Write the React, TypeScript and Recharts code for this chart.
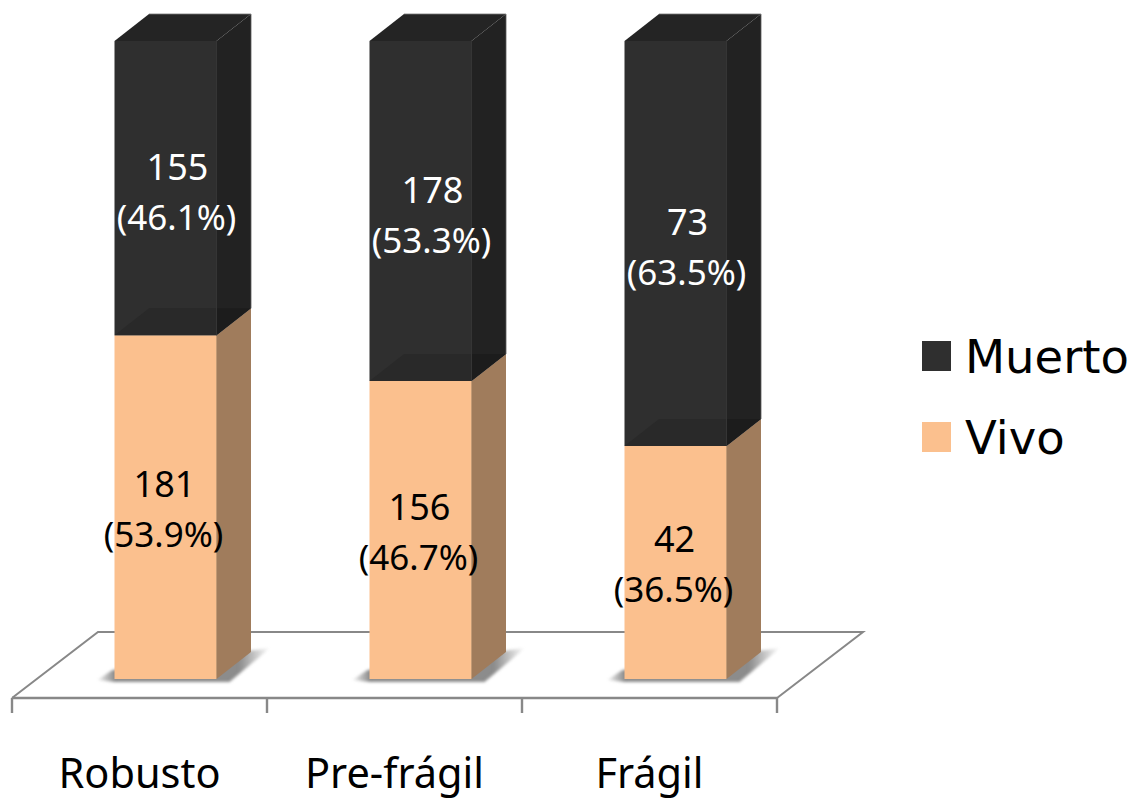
import React from "react";
import { BarChart, Bar, XAxis, YAxis, Legend, ReferenceArea } from "recharts";

const categories = ["Robusto", "Pre-frágil", "Frágil"];
const vivoCounts = [181, 156, 42];
const muertoCounts = [155, 178, 73];
const vivoShares = ["(53.9%)", "(46.7%)", "(36.5%)"];
const muertoShares = ["(46.1%)", "(53.3%)", "(63.5%)"];

const rows = categories.map((name, i) => ({
  name,
  vivo: vivoCounts[i],
  muerto: muertoCounts[i],
  vivoShare: vivoShares[i],
  muertoShare: muertoShares[i],
}));

const FONT = "'Noto Sans', sans-serif";
const DEPTH_X = 34.5;
const DEPTH_Y = 27;
const AXIS_SHIFT = 25.5;
const BAND = 255;

const pts = (list: number[][]) => list.map((p) => p.join(",")).join(" ");

function SegmentLabel({ cx, mid, count, share, color }: any) {
  return (
    <g fill={color} fontFamily={FONT} textAnchor="middle">
      <text x={cx} y={mid - 11} fontSize={36}>{count}</text>
      <text x={cx - 1} y={mid + 39} fontSize={35}>{share}</text>
    </g>
  );
}

// Lower block of a column, with its cast shadow on the floor.
function VivoBlock(props: any) {
  const { x, y, width: w, height: h, index, payload } = props;
  const b = y + h;
  const r = x + w;
  const id = `cast-${index}`;
  return (
    <g>
      <defs>
        <linearGradient id={id} x1="0" y1="0" x2="1" y2="0">
          <stop offset="0" stopColor="#858585" stopOpacity={0.1} />
          <stop offset="0.1" stopColor="#858585" stopOpacity={0.95} />
          <stop offset="0.82" stopColor="#858585" stopOpacity={0.95} />
          <stop offset="1" stopColor="#858585" stopOpacity={0} />
        </linearGradient>
      </defs>
      <polygon
        points={pts([
          [x - 17, b + 1],
          [x - 2, b - 9],
          [r + DEPTH_X + 19, b - DEPTH_Y - 4],
          [r + 13, b + 3],
          [x, b + 3],
        ])}
        fill={`url(#${id})`}
        style={{ filter: "blur(1.6px)" }}
      />
      <polygon points={pts([[x, b], [x, y], [r, y], [r, b]])} fill="#fbc08e" />
      <polygon
        points={pts([[r, b], [r, y], [r + DEPTH_X, y - DEPTH_Y], [r + DEPTH_X, b - DEPTH_Y]])}
        fill="#a07c5c"
      />
      <line x1={r} y1={y} x2={r} y2={b} stroke="#c39a74" strokeWidth={1} />
      <SegmentLabel cx={x + w / 2 - 1} mid={y + h / 2 + 1} count={payload.vivo} share={payload.vivoShare} color="#000" />
    </g>
  );
}

// Upper block, translucent in the original style: the lower block's top shows through.
function MuertoBlock(props: any) {
  const { x, y, width: w, height: h, payload } = props;
  const b = y + h;
  const r = x + w;
  const bx = r + DEPTH_X;
  return (
    <g>
      <polygon points={pts([[x, b], [x, y], [r, y], [r, b]])} fill="#2f2f2f" />
      <polygon points={pts([[r, b], [r, y], [bx, y - DEPTH_Y], [bx, b - DEPTH_Y]])} fill="#222222" />
      <polygon points={pts([[x, y], [x + DEPTH_X, y - DEPTH_Y], [bx, y - DEPTH_Y], [r, y]])} fill="#242424" />
      <polygon points={pts([[x, b], [x + DEPTH_X, b - DEPTH_Y], [r, b - DEPTH_Y], [r, b]])} fill="#292929" />
      <polygon points={pts([[r, b], [r, b - DEPTH_Y], [bx, b - DEPTH_Y]])} fill="#1c1c1c" />
      <line x1={r} y1={y} x2={r} y2={b} stroke="#353535" strokeWidth={1} />
      <line x1={bx} y1={y - DEPTH_Y} x2={bx} y2={b - DEPTH_Y} stroke="#5a5a5a" strokeWidth={0.8} />
      <line x1={x + DEPTH_X} y1={y - DEPTH_Y} x2={bx} y2={y - DEPTH_Y} stroke="#777" strokeWidth={0.8} />
      <SegmentLabel cx={x + w / 2 + 12} mid={y + h / 2 + 3} count={payload.muerto} share={payload.muertoShare} color="#fff" />
    </g>
  );
}

// Perspective floor plane under the columns.
function Floor({ x, y, width, height }: any) {
  const base = y + height;
  const fl = x - AXIS_SHIFT;
  const fr = fl + width;
  const fy = base + 19;
  const by = base - 47;
  const dx = 86;
  return (
    <g fill="none" stroke="#888888">
      <polygon points={pts([[fl, fy], [fl + dx, by], [fr + dx, by], [fr, fy]])} fill="#fff" stroke="none" />
      <polyline points={pts([[fl, fy], [fl + dx, by], [fr + dx, by], [fr, fy]])} strokeWidth={2} />
      <line x1={fl} y1={fy} x2={fr} y2={fy} strokeWidth={2.6} />
    </g>
  );
}

function CategoryTick({ x, y, payload, index }: any) {
  const cx = x - AXIS_SHIFT;
  const top = y + 11;
  return (
    <g>
      <line x1={cx - BAND / 2} y1={top} x2={cx - BAND / 2} y2={top + 15} stroke="#888888" strokeWidth={2.4} />
      {index === categories.length - 1 && (
        <line x1={cx + BAND / 2} y1={top} x2={cx + BAND / 2} y2={top + 15} stroke="#888888" strokeWidth={2.4} />
      )}
      <text x={cx} y={788} textAnchor="middle" fontFamily={FONT} fontSize={41.5} fill="#000">
        {payload.value}
      </text>
    </g>
  );
}

function LegendBox({ payload }: any) {
  const items = payload || [];
  const tops = [341, 422];
  return (
    <div style={{ position: "relative", width: 334, height: 799 }}>
      {items.map((item: any, i: number) => (
        <React.Fragment key={item.value}>
          <div
            style={{
              position: "absolute",
              left: 922 - 802.5,
              top: tops[i],
              width: 29,
              height: 30,
              background: item.color,
            }}
          />
          <div
            style={{
              position: "absolute",
              left: 965 - 802.5,
              top: tops[i] - 19,
              fontFamily: "'DejaVu Sans', sans-serif",
              fontSize: 46.5,
              lineHeight: "70px",
              color: "#000",
              whiteSpace: "nowrap",
            }}
          >
            {item.value}
          </div>
        </React.Fragment>
      ))}
    </div>
  );
}

export default function App() {
  return (
    <div style={{ position: "absolute", left: 0, top: 0, width: 1137, height: 799, background: "#fff" }}>
      <BarChart
        width={1137}
        height={799}
        data={rows}
        stackOffset="expand"
        barSize={102}
        margin={{ top: 41, right: 0, bottom: 0, left: 37.5 }}
      >
        <XAxis
          dataKey="name"
          height={120}
          axisLine={false}
          tickLine={false}
          tick={<CategoryTick />}
          interval={0}
        />
        <YAxis hide domain={[0, 1]} />
        <ReferenceArea y1={0} y2={1} shape={<Floor />} ifOverflow="visible" />
        <Legend
          layout="vertical"
          align="right"
          verticalAlign="top"
          width={334.5}
          wrapperStyle={{ left: 802.5, top: 0, right: "auto" }}
          content={<LegendBox />}
        />
        <Bar dataKey="vivo" name="Vivo" stackId="a" fill="#fbc08e" shape={<VivoBlock />} isAnimationActive={false} />
        <Bar dataKey="muerto" name="Muerto" stackId="a" fill="#2f2f2f" shape={<MuertoBlock />} isAnimationActive={false} />
      </BarChart>
    </div>
  );
}
